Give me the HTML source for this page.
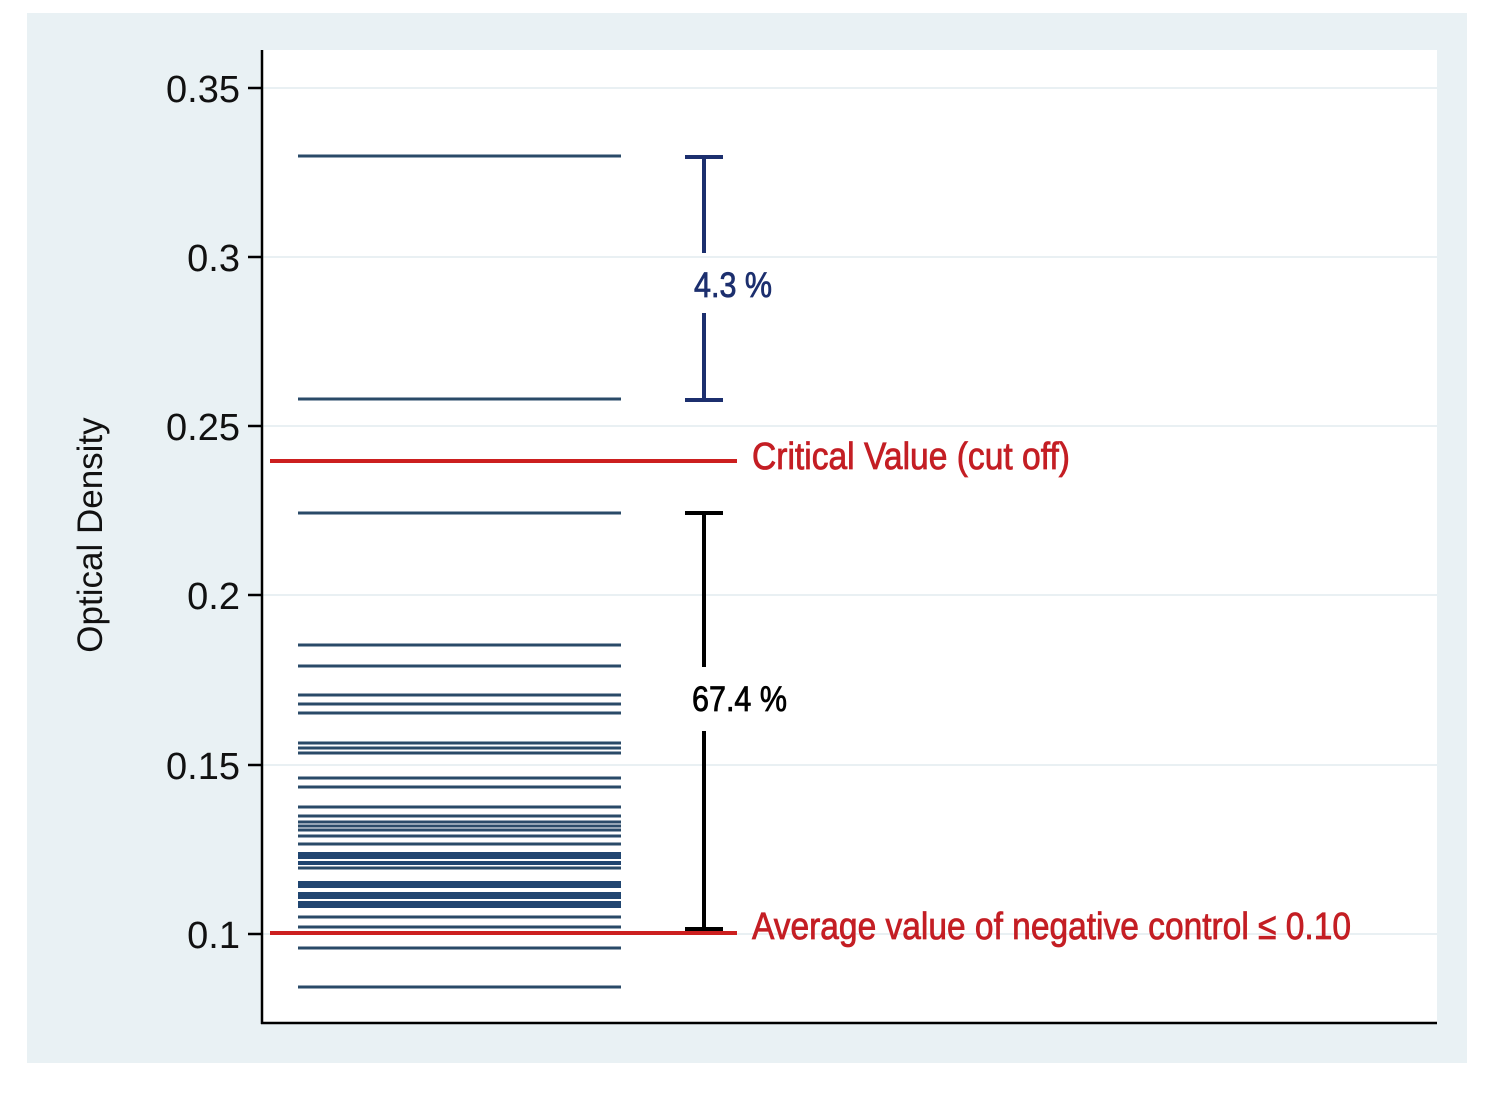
<!DOCTYPE html>
<html><head><style>html,body{margin:0;padding:0;background:#fff}svg{display:block}</style></head>
<body>
<svg width="1495" height="1113" xmlns="http://www.w3.org/2000/svg" font-family="Liberation Sans, sans-serif">
<rect x="0" y="0" width="1495" height="1113" fill="#fff"/>
<rect x="27" y="13" width="1440" height="1050" fill="#e9f1f4"/>
<rect x="262" y="50" width="1175" height="973" fill="#fff"/>
<g stroke="#e9f0f3" stroke-width="2">
<line x1="262" y1="88" x2="1437" y2="88"/><line x1="262" y1="257" x2="1437" y2="257"/>
<line x1="262" y1="426" x2="1437" y2="426"/><line x1="262" y1="595" x2="1437" y2="595"/>
<line x1="262" y1="765" x2="1437" y2="765"/><line x1="262" y1="934" x2="1437" y2="934"/>
</g>
<g stroke="#000" stroke-width="2.5">
<line x1="262" y1="50" x2="262" y2="1024"/><line x1="261" y1="1023" x2="1437" y2="1023"/>
<line x1="248" y1="88" x2="262" y2="88"/><line x1="248" y1="257" x2="262" y2="257"/>
<line x1="248" y1="426" x2="262" y2="426"/><line x1="248" y1="595" x2="262" y2="595"/>
<line x1="248" y1="765" x2="262" y2="765"/><line x1="248" y1="934" x2="262" y2="934"/>
</g>
<g font-size="38" text-anchor="end" fill="#111">
<text x="240" y="102">0.35</text><text x="240" y="271">0.3</text><text x="240" y="440">0.25</text>
<text x="240" y="609">0.2</text><text x="240" y="779">0.15</text><text x="240" y="948">0.1</text>
</g>
<text transform="translate(102,535) rotate(-90)" font-size="35" text-anchor="middle" fill="#111">Optical Density</text>
<g stroke="#2a4a68" stroke-width="3">
<line x1="298" y1="156" x2="621" y2="156"/><line x1="298" y1="399" x2="621" y2="399"/>
<line x1="298" y1="513" x2="621" y2="513"/><line x1="298" y1="645" x2="621" y2="645"/>
<line x1="298" y1="666" x2="621" y2="666"/><line x1="298" y1="695" x2="621" y2="695"/>
<line x1="298" y1="704" x2="621" y2="704"/><line x1="298" y1="713" x2="621" y2="713"/>
<line x1="298" y1="743" x2="621" y2="743"/><line x1="298" y1="748" x2="621" y2="748"/>
<line x1="298" y1="753" x2="621" y2="753"/><line x1="298" y1="778" x2="621" y2="778"/>
<line x1="298" y1="787" x2="621" y2="787"/><line x1="298" y1="807" x2="621" y2="807"/>
<line x1="298" y1="816" x2="621" y2="816"/><line x1="298" y1="822" x2="621" y2="822"/>
<line x1="298" y1="826" x2="621" y2="826"/><line x1="298" y1="830" x2="621" y2="830"/>
<line x1="298" y1="836" x2="621" y2="836"/><line x1="298" y1="844" x2="621" y2="844"/>
<line x1="298" y1="868" x2="621" y2="868"/><line x1="298" y1="917" x2="621" y2="917"/>
<line x1="298" y1="927" x2="621" y2="927"/><line x1="298" y1="948" x2="621" y2="948"/>
<line x1="298" y1="987" x2="621" y2="987"/>
</g>
<g fill="#204570">
<rect x="298" y="852" width="323" height="7"/><rect x="298" y="861" width="323" height="4"/>
<rect x="298" y="881" width="323" height="7"/><rect x="298" y="892" width="323" height="7"/>
<rect x="298" y="901" width="323" height="7"/>
</g>
<g stroke="#cc1f1f" stroke-width="4">
<line x1="270" y1="461" x2="737" y2="461"/><line x1="270" y1="933" x2="737" y2="933"/>
</g>
<g stroke="#1c2f6e" stroke-width="4">
<line x1="704" y1="157" x2="704" y2="253"/><line x1="704" y1="313" x2="704" y2="400"/>
<line x1="685" y1="157" x2="723" y2="157"/><line x1="685" y1="400" x2="723" y2="400"/>
</g>
<g stroke="#000" stroke-width="4">
<line x1="704" y1="513" x2="704" y2="667"/><line x1="704" y1="731" x2="704" y2="929"/>
<line x1="685" y1="513" x2="723" y2="513"/><line x1="685" y1="929" x2="723" y2="929"/>
</g>
<g stroke-width="0.8" font-size="35">
<text x="694" y="297" fill="#1c2f6e" stroke="#1c2f6e" textLength="78" lengthAdjust="spacingAndGlyphs">4.3 %</text>
<text x="692" y="711" fill="#000" stroke="#000" textLength="95" lengthAdjust="spacingAndGlyphs">67.4 %</text>
</g>
<g stroke-width="0.8" font-size="38" fill="#c41e24" stroke="#c41e24">
<text x="752" y="469" textLength="318" lengthAdjust="spacingAndGlyphs">Critical Value (cut off)</text>
<text x="752" y="939" textLength="599" lengthAdjust="spacingAndGlyphs">Average value of negative control ≤ 0.10</text>
</g>
</svg>
</body></html>
